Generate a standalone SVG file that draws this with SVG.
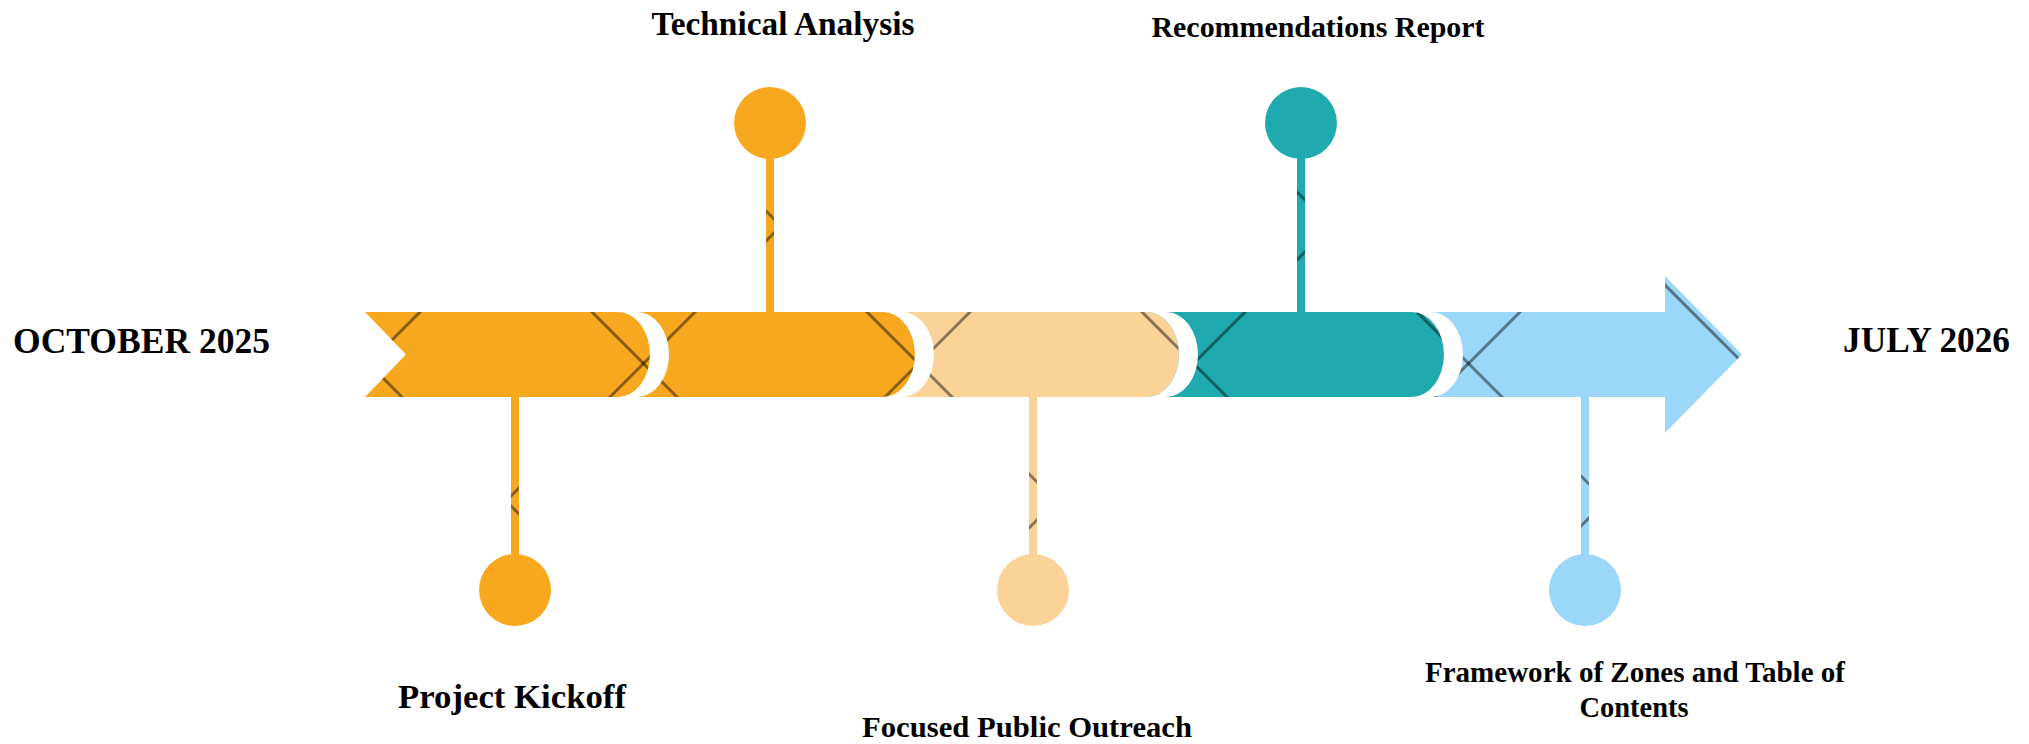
<svg xmlns="http://www.w3.org/2000/svg" width="2029" height="744" viewBox="0 0 2029 744">
<style>
.lbl{font-family:"Liberation Serif","Times New Roman",serif;font-weight:bold;fill:#000}
.orange{fill:#F7A81F}
.peach{fill:#FBD399}
.teal{fill:#1EAAAE}
.blue{fill:#9BD7F8}
.tex{fill:url(#xpat)}
.gap{fill:#FFFFFF}
</style>
<defs>
<pattern id="xpat" patternUnits="userSpaceOnUse" x="0" y="0" width="275" height="275">
<g stroke="#000" stroke-opacity="0.45" stroke-width="3" fill="none">
<line x1="-20" y1="-25" x2="300" y2="295"/>
<line x1="-20" y1="250" x2="30" y2="300"/>
<line x1="270" y1="-10" x2="300" y2="20"/>
<line x1="-20" y1="202" x2="202" y2="-20"/>
<line x1="160" y1="297" x2="297" y2="160"/>
</g>
</pattern>
</defs>
<rect x="0" y="0" width="2029" height="744" fill="#FFFFFF"/>

<g id="connectors">
<rect class="orange" x="511" y="397" width="8" height="160"/>
<rect class="tex" x="511" y="397" width="8" height="160"/>
<rect class="orange" x="766" y="156" width="8" height="156"/>
<rect class="tex" x="766" y="156" width="8" height="156"/>
<rect class="peach" x="1029" y="397" width="8" height="160"/>
<rect class="tex" x="1029" y="397" width="8" height="160"/>
<rect class="teal" x="1297" y="156" width="8" height="156"/>
<rect class="tex" x="1297" y="156" width="8" height="156"/>
<rect class="blue" x="1581" y="397" width="8" height="160"/>
<rect class="tex" x="1581" y="397" width="8" height="160"/>
</g>

<g id="timeline-bar">
<path id="seg5" class="blue" d="M1412,312 L1665,312 L1665,276 L1742,354.5 L1665,433 L1665,397 L1412,397 Z"/>
<path class="tex" d="M1412,312 L1665,312 L1665,276 L1742,354.5 L1665,433 L1665,397 L1412,397 Z"/>
<path id="seg4" class="teal" d="M1147,312 L1412,312 A32,42.5 0 0 1 1444,354.5 A32,42.5 0 0 1 1412,397 L1147,397 Z"/>
<path class="tex" d="M1147,312 L1412,312 A32,42.5 0 0 1 1444,354.5 A32,42.5 0 0 1 1412,397 L1147,397 Z"/>
<path id="seg3" class="peach" d="M883,312 L1147,312 A32,42.5 0 0 1 1179,354.5 A32,42.5 0 0 1 1147,397 L883,397 Z"/>
<path class="tex" d="M883,312 L1147,312 A32,42.5 0 0 1 1179,354.5 A32,42.5 0 0 1 1147,397 L883,397 Z"/>
<path id="seg2" class="orange" d="M618,312 L883,312 A32,42.5 0 0 1 915,354.5 A32,42.5 0 0 1 883,397 L618,397 Z"/>
<path class="tex" d="M618,312 L883,312 A32,42.5 0 0 1 915,354.5 A32,42.5 0 0 1 883,397 L618,397 Z"/>
<path id="seg1" class="orange" d="M365,312 L618,312 A32,42.5 0 0 1 650,354.5 A32,42.5 0 0 1 618,397 L365,397 L406,354.5 Z"/>
<path class="tex" d="M365,312 L618,312 A32,42.5 0 0 1 650,354.5 A32,42.5 0 0 1 618,397 L365,397 L406,354.5 Z"/>
<path class="gap" d="M618,312 L637,312 A32,42.5 0 0 1 669,354.5 A32,42.5 0 0 1 637,397 L618,397 A32,42.5 0 0 0 650,354.5 A32,42.5 0 0 0 618,312 Z"/>
<path class="gap" d="M883,312 L902,312 A32,42.5 0 0 1 934,354.5 A32,42.5 0 0 1 902,397 L883,397 A32,42.5 0 0 0 915,354.5 A32,42.5 0 0 0 883,312 Z"/>
<path class="gap" d="M1147,312 L1166,312 A32,42.5 0 0 1 1198,354.5 A32,42.5 0 0 1 1166,397 L1147,397 A32,42.5 0 0 0 1179,354.5 A32,42.5 0 0 0 1147,312 Z"/>
<path class="gap" d="M1412,312 L1431,312 A32,42.5 0 0 1 1463,354.5 A32,42.5 0 0 1 1431,397 L1412,397 A32,42.5 0 0 0 1444,354.5 A32,42.5 0 0 0 1412,312 Z"/>
</g>

<g id="start-label">
<text class="lbl" x="141.5" y="353" font-size="35" text-anchor="middle" textLength="257" lengthAdjust="spacingAndGlyphs">OCTOBER 2025</text>
</g>
<g id="end-label">
<text class="lbl" x="1926.5" y="352" font-size="35" text-anchor="middle" textLength="167" lengthAdjust="spacingAndGlyphs">JULY 2026</text>
</g>

<g id="node-project-kickoff">
<circle class="orange" cx="515" cy="590" r="36"/>
<text class="lbl" x="512" y="708" font-size="34" text-anchor="middle" textLength="228" lengthAdjust="spacingAndGlyphs">Project Kickoff</text>
</g>
<g id="node-technical-analysis">
<circle class="orange" cx="770" cy="123" r="36"/>
<text class="lbl" x="783" y="35" font-size="33" text-anchor="middle" textLength="263" lengthAdjust="spacingAndGlyphs">Technical Analysis</text>
</g>
<g id="node-focused-public-outreach">
<circle class="peach" cx="1033" cy="590" r="36"/>
<text class="lbl" x="1027" y="737" font-size="30" text-anchor="middle" textLength="330" lengthAdjust="spacingAndGlyphs">Focused Public Outreach</text>
</g>
<g id="node-recommendations-report">
<circle class="teal" cx="1301" cy="123" r="36"/>
<text class="lbl" x="1318" y="37" font-size="29" text-anchor="middle" textLength="333" lengthAdjust="spacingAndGlyphs">Recommendations Report</text>
</g>
<g id="node-framework">
<circle class="blue" cx="1585" cy="590" r="36"/>
<text class="lbl" x="1635" y="682" font-size="29" text-anchor="middle" textLength="420" lengthAdjust="spacingAndGlyphs">Framework of Zones and Table of</text>
<text class="lbl" x="1634" y="717" font-size="29" text-anchor="middle" textLength="109" lengthAdjust="spacingAndGlyphs">Contents</text>
</g>
</svg>
